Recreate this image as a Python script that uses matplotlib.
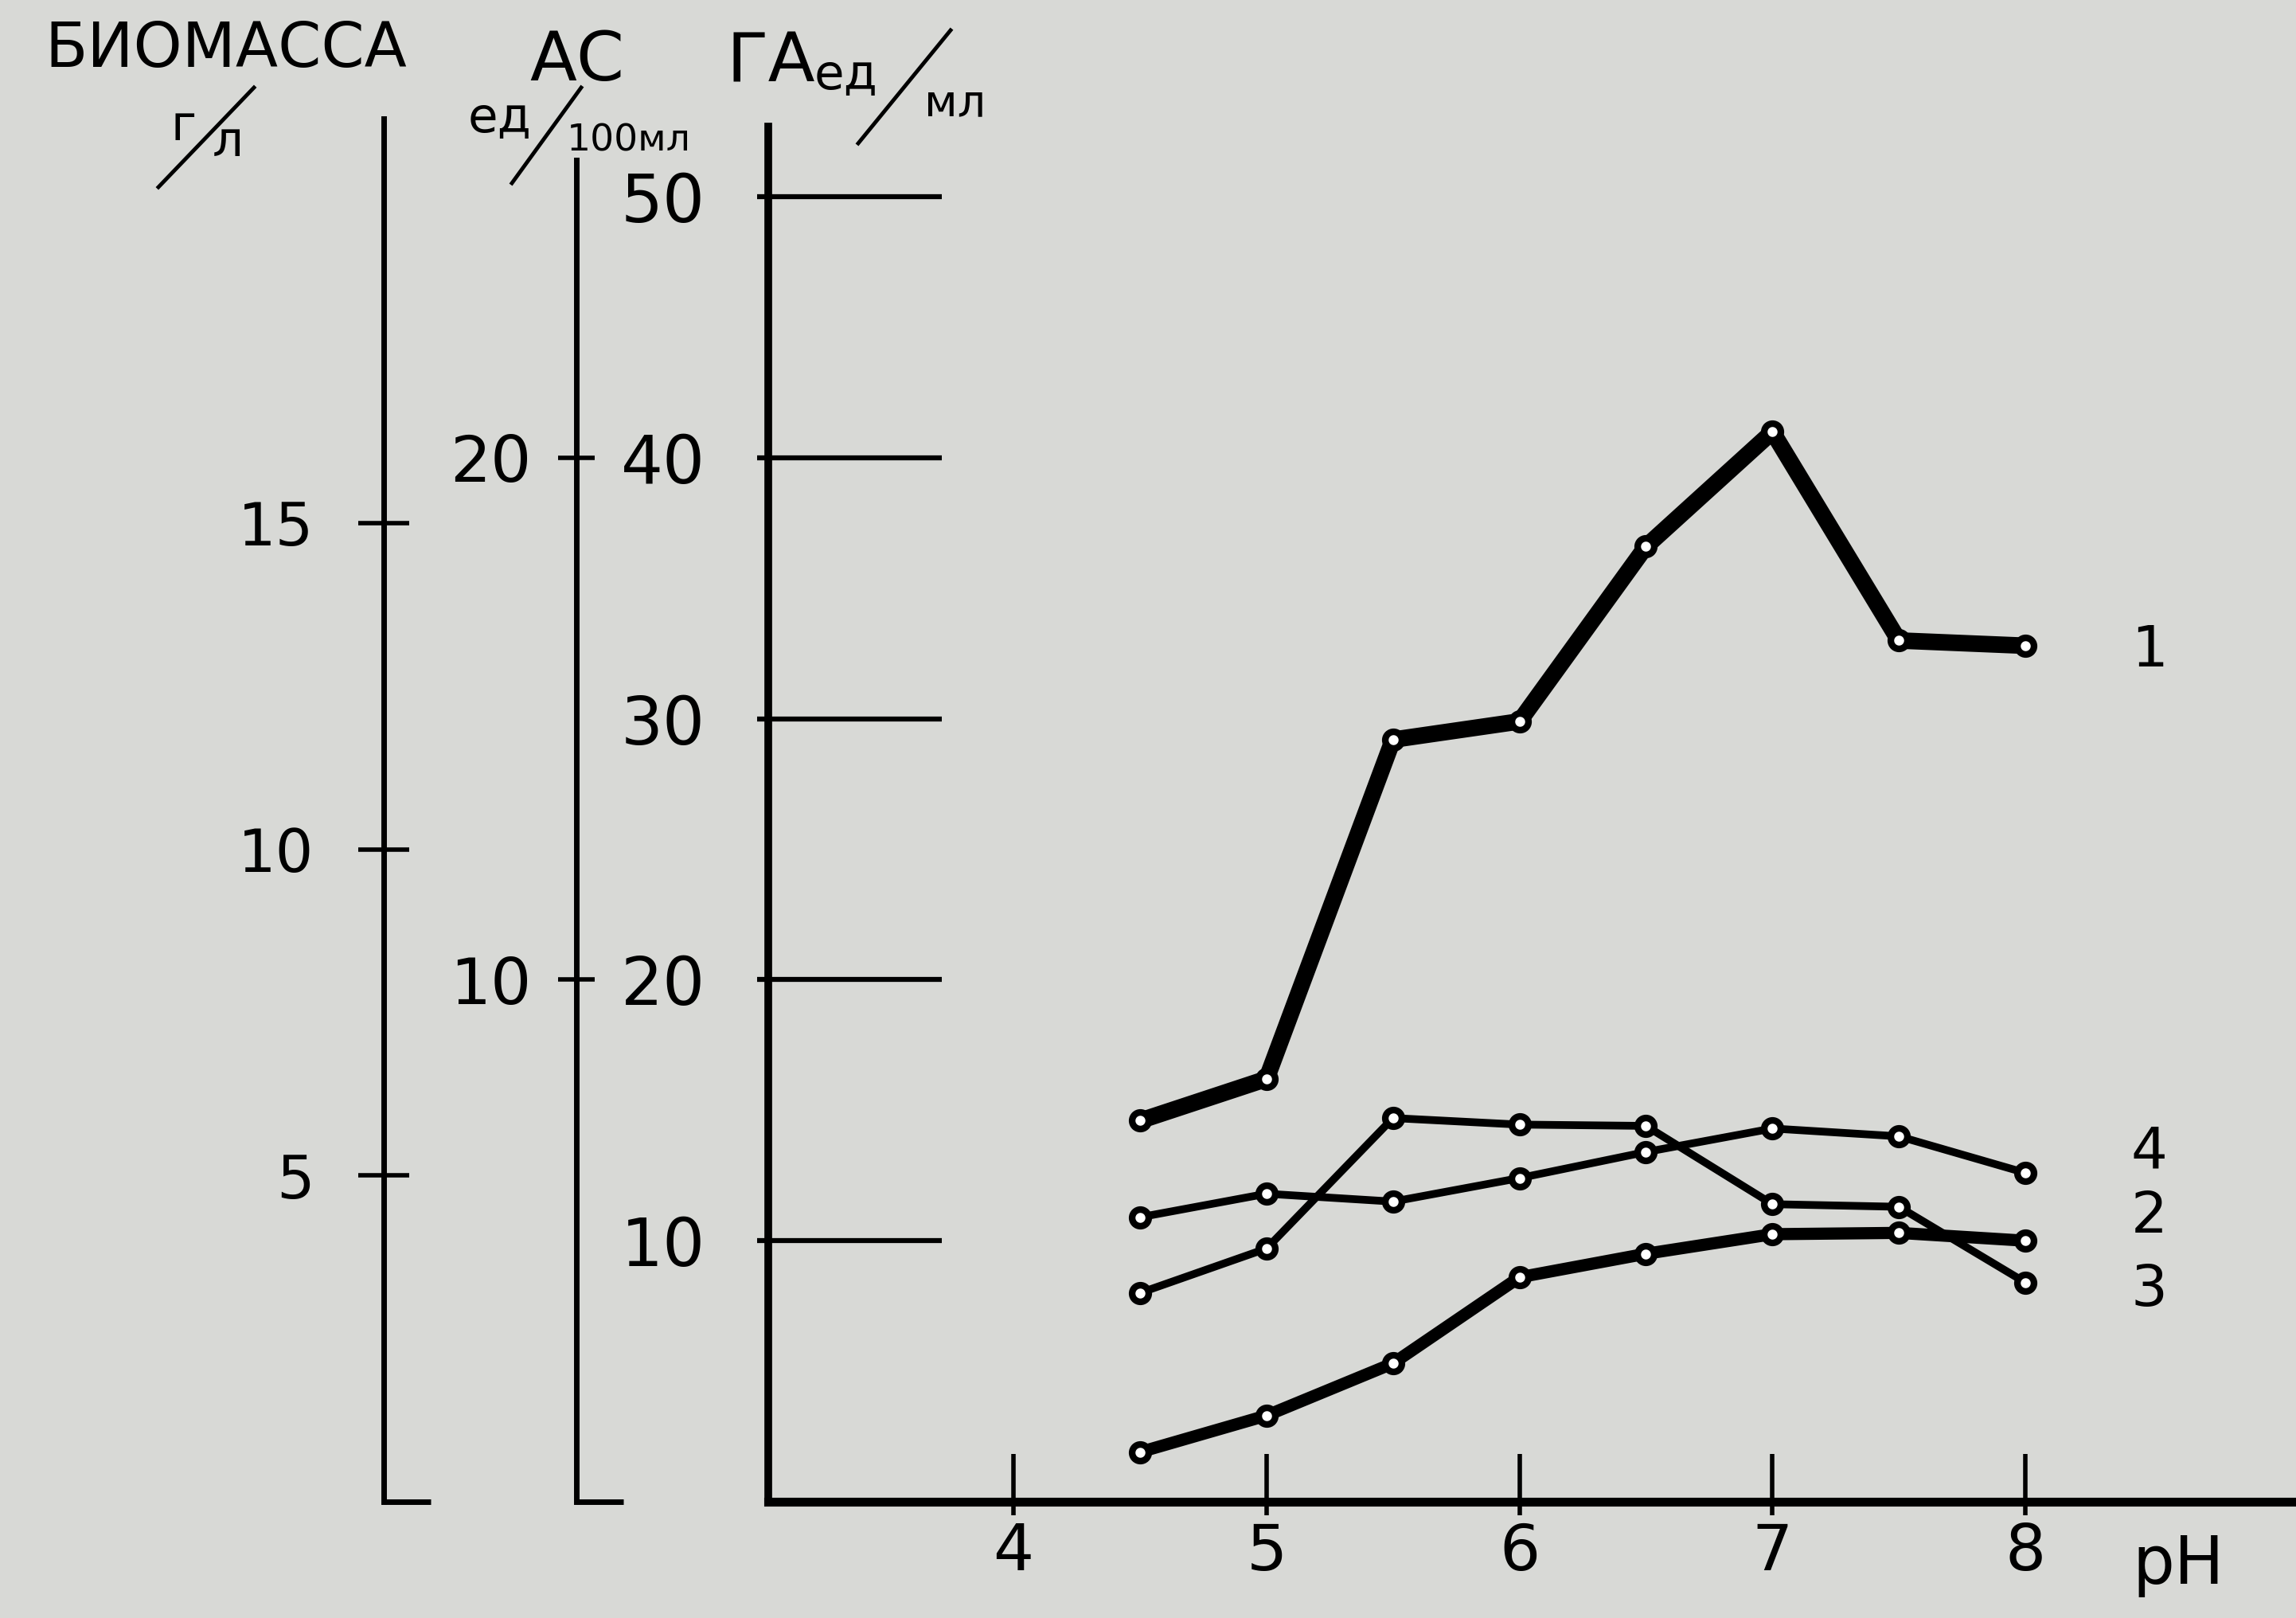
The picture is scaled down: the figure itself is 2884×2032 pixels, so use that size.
import matplotlib.pyplot as plt
import numpy as np

# values (main scale: ГА ед/мл)
ph = [4.5, 5.0, 5.5, 6.0, 6.5, 7.0, 7.5, 8.0]
curve_1 = [14.6, 16.2, 29.2, 29.9, 36.6, 41.0, 33.0, 32.8]
curve_2 = [1.9, 3.3, 5.3, 8.6, 9.5, 10.25, 10.3, 10.0]
curve_3 = [8.0, 9.7, 14.7, 14.45, 14.4, 11.4, 11.3, 8.4]
curve_4 = [10.9, 11.8, 11.5, 12.4, 13.4, 14.3, 14.0, 12.6]
curve_names = ['1', '2', '3', '4']

ph_ticks = [4, 5, 6, 7, 8]
ga_ticks = [10, 20, 30, 40, 50]
ac_ticks = [10, 20]
bio_ticks = [5, 10, 15]

W, H = 2884, 2032
BG = '#d8d9d6'
GA_TOP = 53.0

plt.rcParams['font.family'] = ['DejaVu Sans']
fig = plt.figure(figsize=(W / 100, H / 100), dpi=100, facecolor=BG)
ax = fig.add_axes([0.3346, 0.0719, 0.6654, 0.8548])
ax.set_facecolor('none')
ax.set_xlim(3.03, 9.07)
ax.set_ylim(0, GA_TOP)

# extra scales: АС = ГА/2, биомасса = ГА/2.5
ax_ac = ax.twinx()
ax_ac.set_ylim(0, GA_TOP / 2)
ax_bio = ax.twinx()
ax_bio.set_ylim(0, GA_TOP / 2.5)
for a, off, top in ((ax_ac, -0.1256, 25.7), (ax_bio, -0.2517, 21.2)):
    for s in ('top', 'right', 'bottom'):
        a.spines[s].set_visible(False)
    a.spines['left'].set_visible(True)
    a.spines['left'].set_position(('axes', off))
    a.spines['left'].set_bounds(0, top)
    a.spines['left'].set_linewidth(5)
    a.yaxis.set_ticks_position('left')
    # little foot at the bottom of the scale
    a.plot([off, off + 0.031], [0, 0], transform=ax.transAxes, color='k',
           lw=5, clip_on=False, solid_capstyle='butt')

ax_ac.set_yticks(ac_ticks)
ax_ac.tick_params(axis='y', direction='inout', length=33, width=4, pad=24, labelsize=58)
ax_bio.set_yticks(bio_ticks)
ax_bio.tick_params(axis='y', direction='inout', length=46, width=4, pad=40, labelsize=54)

# main axes
ax.spines['top'].set_visible(False)
ax.spines['right'].set_visible(False)
ax.spines['left'].set_linewidth(7)
ax.spines['left'].set_bounds(0, 52.7)
ax.spines['bottom'].set_linewidth(8)

ax.xaxis.remove_overlapping_locs = False
ax.yaxis.remove_overlapping_locs = False
ax.set_xticks(ph_ticks)
ax.set_xticks(ph_ticks, minor=True)
ax.tick_params(axis='x', which='major', direction='in', length=43, width=4, pad=18, labelsize=58)
ax.tick_params(axis='x', which='minor', direction='out', length=12, width=4)
ax.set_yticks(ga_ticks)
ax.set_yticks(ga_ticks, minor=True)
ax.tick_params(axis='y', which='major', direction='in', length=157, width=4.5, pad=57, labelsize=60)
ax.tick_params(axis='y', which='minor', direction='out', length=10, width=4.5)

mk = dict(marker='o', ms=15, mew=6, mfc='white', mec='black', color='black',
          solid_joinstyle='round', solid_capstyle='round')
ax.plot(ph, curve_4, lw=7, **mk)
ax.plot(ph, curve_3, lw=7, **mk)
ax.plot(ph, curve_2, lw=11, **mk)
ax.plot(ph, curve_1, lw=15, **mk)

for name, y in zip(curve_names, [32.6, 10.9, 8.1, 13.4]):
    ax.text(8.49, y, name, fontsize=52, ha='center', va='center')


def ftext(x, y, s, size):
    fig.text(x / W, 1 - y / H, s, fontsize=size, ha='center', va='center')


def slash(x0, y0, x1, y1):
    fig.add_artist(plt.Line2D([x0 / W, x1 / W], [1 - y0 / H, 1 - y1 / H],
                              transform=fig.transFigure, color='k', lw=3.5))


# scale headings
ftext(284, 62, 'БИОМАССА', 56)
ftext(230, 160, 'г', 44)
ftext(286, 180, 'л', 44)
slash(199, 235, 319, 110)

ftext(725, 77, 'АС', 62)
ftext(628, 150, 'ед', 44)
ftext(790, 177, '100мл', 34)
slash(643, 230, 730, 110)

ftext(968, 79, 'ГА', 62)
ftext(1063, 95, 'ед', 44)
ftext(1200, 130, 'мл', 40)
slash(1078, 180, 1194, 38)

ftext(2736, 1966, 'pH', 60)

fig.savefig('out.png', dpi=100, facecolor=BG)
